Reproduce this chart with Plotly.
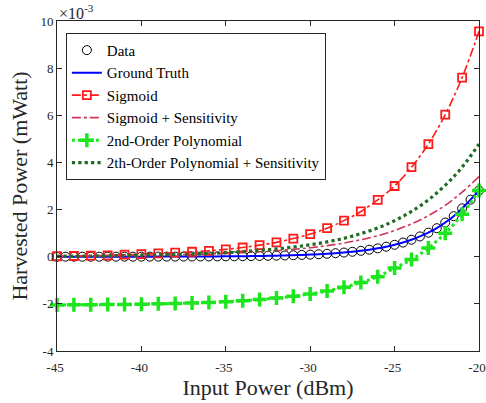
import plotly.graph_objects as go

# Input power (dBm)
x_data = [-45 + 0.5 * i for i in range(51)]
x_fit = [-45 + i for i in range(26)]

# Harvested power (x 1e-3 mW)
ground_truth = [0.0005, 0.0006, 0.0007, 0.0008, 0.001, 0.0012, 0.0014, 0.0017, 0.002, 0.0024,
                0.0028, 0.0033, 0.004, 0.0047, 0.0056, 0.0067, 0.0079, 0.0094, 0.0112, 0.0133,
                0.0158, 0.0188, 0.0223, 0.0265, 0.0315, 0.0374, 0.0445, 0.0529, 0.0629, 0.0747,
                0.0888, 0.105, 0.125, 0.149, 0.177, 0.210, 0.250, 0.297, 0.355, 0.425,
                0.505, 0.60, 0.72, 0.86, 1.02, 1.21, 1.45, 1.72, 2.05, 2.42, 2.81]
data_pts = list(ground_truth)

sigmoid = [0.02, 0.03, 0.045, 0.06, 0.085, 0.11, 0.14, 0.17, 0.21, 0.25, 0.31, 0.39, 0.49,
           0.61, 0.77, 0.96, 1.21, 1.53, 1.92, 2.41, 3.0, 3.8, 4.78, 6.03, 7.6, 9.56]
sigmoid_sens = [0.025, 0.03, 0.035, 0.04, 0.05, 0.06, 0.07, 0.085, 0.10, 0.12, 0.145, 0.175, 0.21,
                0.25, 0.31, 0.38, 0.47, 0.58, 0.72, 0.89, 1.11, 1.39, 1.74, 2.18, 2.74, 3.40]
poly2 = [-2.045, -2.041, -2.036, -2.030, -2.022, -2.012, -1.999, -1.984, -1.964, -1.939, -1.908,
         -1.868, -1.819, -1.756, -1.678, -1.578, -1.454, -1.296, -1.098, -0.848, -0.48, -0.12,
         0.37, 1.0, 1.80, 2.81]
poly2_sens = [0.02, 0.025, 0.03, 0.04, 0.05, 0.06, 0.075, 0.09, 0.11, 0.14, 0.17, 0.22, 0.27,
              0.33, 0.41, 0.505, 0.63, 0.78, 0.98, 1.22, 1.53, 1.92, 2.41, 3.03, 3.80, 4.78]

x_ticks = [-45, -40, -35, -30, -25, -20]
x_tick_text = ["-45", "-40", "-35", "-30", "-25", "-20"]
y_ticks = [-4, -2, 0, 2, 4, 6, 8, 10]
y_tick_text = ["-4", "-2", "0", "2", "4", "6", "8", "10"]

FONT = "Liberation Serif"
AX = "#262626"

fig = go.Figure()
fig.add_trace(go.Scatter(x=x_data, y=data_pts, mode="markers", name="Data",
                         marker=dict(symbol="circle-open", size=9, color="black",
                                     line=dict(width=1, color="black")),
                         cliponaxis=False))
fig.add_trace(go.Scatter(x=x_data, y=ground_truth, mode="lines", name="Ground Truth",
                         line=dict(color="#0000FF", width=2, shape="spline")))
fig.add_trace(go.Scatter(x=x_fit, y=sigmoid, mode="lines+markers", name="Sigmoid",
                         line=dict(color="#FF1A1A", width=1.6, dash="dashdot", shape="spline"),
                         marker=dict(symbol="square-open", size=8, color="#FF1A1A",
                                     line=dict(width=1.8, color="#FF1A1A")),
                         cliponaxis=False))
fig.add_trace(go.Scatter(x=x_fit, y=sigmoid_sens, mode="lines", name="Sigmoid + Sensitivity",
                         line=dict(color="#D0355A", width=1.6, dash="dashdot", shape="spline")))
fig.add_trace(go.Scatter(x=x_fit, y=poly2, mode="lines+markers", name="2nd-Order Polynomial",
                         line=dict(color="#1EE61E", width=3, dash="dot", shape="spline"),
                         marker=dict(symbol="cross-thin", size=10, color="#1EE61E",
                                     line=dict(width=3.5, color="#1EE61E")),
                         cliponaxis=False))
fig.add_trace(go.Scatter(x=x_fit, y=poly2_sens, mode="lines",
                         name="2th-Order Polynomial + Sensitivity",
                         line=dict(color="#1F6B22", width=3.2, dash="dot", shape="spline")))

axis_common = dict(showline=True, linecolor=AX, linewidth=1, mirror="ticks", ticks="inside",
                   ticklen=5, tickcolor=AX, showgrid=False, zeroline=False,
                   ticklabeloverflow="allow",
                   tickfont=dict(family=FONT, size=13, color=AX))
fig.update_xaxes(range=[-45, -20], tickvals=x_ticks, ticktext=x_tick_text,
                 ticklabelshift=-2, ticklabelstandoff=4,
                 title=dict(text="Input Power (dBm)", font=dict(family=FONT, size=22, color=AX),
                            standoff=0),
                 **axis_common)
fig.update_yaxes(range=[-4, 10], tickvals=y_ticks, ticktext=y_tick_text,
                 title=dict(text="Harvested Power (mWatt)", font=dict(family=FONT, size=22, color=AX),
                            standoff=6),
                 **axis_common)

fig.add_annotation(text="\u00d710<sup>-3</sup>", xref="paper", yref="paper", x=0.0, y=1.0,
                   xanchor="left", yanchor="bottom", showarrow=False, yshift=-3,
                   font=dict(family=FONT, size=16, color=AX))

fig.update_layout(
    width=486, height=403,
    margin=dict(l=57, r=7, t=21, b=52, autoexpand=False),
    paper_bgcolor="white", plot_bgcolor="white",
    showlegend=True,
    legend=dict(x=0.021, y=0.964, xanchor="left", yanchor="top",
                bgcolor="white", bordercolor=AX, borderwidth=1,
                font=dict(family=FONT, size=15, color="black"),
                itemwidth=30, tracegroupgap=0),
)

fig.write_html("out.html", config={"displayModeBar": False},
               post_script="document.body.style.margin='0';")
